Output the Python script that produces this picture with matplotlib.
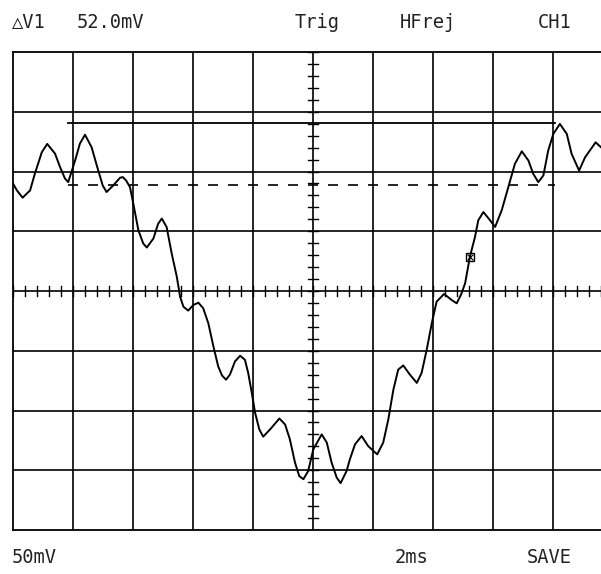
import matplotlib.pyplot as plt
import numpy as np

# trace: time (ms), voltage (mV); 2 ms/div, 50 mV/div
t_ms = [0.00, 0.13, 0.32, 0.57, 0.73, 0.96, 1.14, 1.40, 1.57, 1.73, 1.84, 2.07,
        2.23, 2.40, 2.62, 2.81, 2.99, 3.12, 3.34, 3.57, 3.66, 3.77, 3.90, 4.01,
        4.18, 4.34, 4.46, 4.68, 4.84, 4.96, 5.12, 5.29, 5.46, 5.57, 5.68, 5.84,
        6.01, 6.18, 6.34, 6.51, 6.68, 6.84, 6.97, 7.10, 7.23, 7.40, 7.57, 7.73,
        7.84, 7.96, 8.07, 8.21, 8.34, 8.57, 8.88, 9.07, 9.23, 9.40, 9.54, 9.68,
        9.84, 10.01, 10.29, 10.46, 10.62, 10.79, 10.92, 11.12, 11.23, 11.40,
        11.62, 11.84, 12.14, 12.34, 12.51, 12.68, 12.84, 13.01, 13.23, 13.46,
        13.62, 13.79, 13.96, 14.12, 14.37, 14.62, 14.79, 14.93, 15.07, 15.23,
        15.40, 15.51, 15.68, 15.90, 16.07, 16.29, 16.51, 16.73, 16.96, 17.18,
        17.34, 17.51, 17.68, 17.84, 18.01, 18.23, 18.46, 18.62, 18.87, 19.07,
        19.42, 19.60]
v_mv = [90.0, 84.2, 78.1, 84.2, 98.3, 116.1, 123.1, 115.0, 103.6, 94.2, 91.1, 109.2,
        123.3, 130.8, 120.3, 103.6, 88.3, 82.8, 88.3, 94.8, 95.3, 92.5, 86.9, 73.1,
        50.8, 39.8, 36.4, 43.9, 56.4, 60.6, 53.6, 31.4, 11.9, -4.8, -13.1, -16.4,
        -11.7, -9.8, -14.4, -26.9, -46.4, -63.1, -70.8, -74.2, -70.0, -58.9, -54.2,
        -57.5, -68.6, -85.3, -101.9, -115.8, -121.9, -115.8, -106.7, -111.7,
        -124.2, -143.6, -154.8, -157.5, -150.6, -132.5, -120.0, -126.9, -143.6,
        -156.1, -160.8, -150.6, -140.8, -128.3, -121.4, -129.8, -136.7, -126.9,
        -107.5, -82.5, -65.8, -62.3, -70.0, -76.9, -68.6, -49.2, -26.9, -8.9,
        -2.5, -7.5, -10.3, -3.3, 6.4, 28.6, 45.3, 59.2, 66.1, 59.2, 53.6, 67.5,
        86.9, 106.4, 116.9, 109.2, 98.1, 91.1, 96.7, 117.5, 131.4, 139.8, 131.4,
        114.8, 100.8, 111.9, 124.4, 120.3]

cursor_solid = 141.0
cursor_dashed = 89.0
cursor_span = (1.83, 18.07)
marker_pt = (15.23, 28.6)

top_labels = ["\u25b3V1", "52.0mV", "Trig", "HFrej", "CH1"]
bottom_labels = ["50mV", "2ms", "SAVE"]

W, H = 601, 574
fig = plt.figure(figsize=(W / 100, H / 100), dpi=100)
ax = fig.add_axes([13 / W, 44 / H, 600 / W, 478 / H])
ax.set_xlim(0, 20)
ax.set_ylim(-200, 200)
ax.set_xticks([])
ax.set_yticks([])
for s in ax.spines.values():
    s.set_linewidth(1.3)

# graticule
for x in np.arange(2, 20, 2):
    ax.axvline(x, color='black', lw=1.2)
for y in np.arange(-150, 200, 50):
    ax.axhline(y, color='black', lw=1.2)

# minor ticks on centre lines
for x in np.arange(0, 20.01, 0.4):
    ax.plot([x, x], [-4.5, 4.5], color='black', lw=1.0)
for y in np.arange(-200, 200.1, 10):
    ax.plot([9.82, 10.18], [y, y], color='black', lw=1.0)

# cursors
ax.plot(cursor_span, [cursor_solid] * 2, color='black', lw=1.3)
ax.plot(cursor_span, [cursor_dashed] * 2, color='black', lw=1.2, dashes=(6, 6))

ax.plot(t_ms, v_mv, color='black', lw=1.4, solid_joinstyle='round')
ax.plot(*marker_pt, marker='s', ms=6, mfc='none', mec='black', mew=1.0)
ax.plot(*marker_pt, marker='x', ms=5, color='black', mew=0.8)

tk = dict(family='DejaVu Sans Mono', fontsize=13.5, color='#222222', va='baseline')
for lbl, px in zip(top_labels, [12, 77, 295, 400, 538]):
    fig.text(px / W, 1 - 28 / H, lbl, **tk)
for lbl, px in zip(bottom_labels, [12, 395, 527]):
    fig.text(px / W, 1 - 563 / H, lbl, **tk)

fig.savefig('out.png', dpi=100)
